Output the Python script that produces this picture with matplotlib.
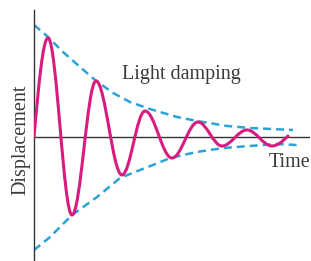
import numpy as np
import matplotlib
matplotlib.use("Agg")
import matplotlib.pyplot as plt
from matplotlib.path import Path
from matplotlib.patches import PathPatch

# ---- data (time in arbitrary units, displacement normalised) ----
# damped oscillation: start, successive peaks / troughs, end point
osc_t = [0.0, 1.4, 3.8, 6.2, 8.8, 11.1, 13.8, 16.4, 18.8, 21.3, 23.8, 25.4]
osc_d = [0.0, 0.861, -0.678, 0.487, -0.330, 0.226, -0.183, 0.130, -0.078, 0.061, -0.078, 0.009]

# upper envelope (dashed)
env_up_t = [0.0, 1.3, 2.9, 4.6, 6.1, 7.9, 9.6, 11.6, 14.3, 16.3, 19.3, 21.6, 25.9]
env_up_d = [0.974, 0.878, 0.739, 0.609, 0.496, 0.383, 0.304, 0.243, 0.174, 0.139, 0.096, 0.078, 0.061]

# lower envelope (dashed)
env_lo_t = [0.0, 1.6, 3.8, 6.3, 8.6, 10.6, 12.4, 13.6, 16.3, 18.9, 21.6, 24.3, 26.3]
env_lo_d = [-0.983, -0.870, -0.678, -0.522, -0.357, -0.287, -0.226, -0.183, -0.130, -0.096, -0.078, -0.061, -0.070]

label_curve = "Light damping"
label_x = "Time"
label_y = "Displacement"

PINK = "#d81b7f"
CYAN = "#2ba3d6"
AXC = "#333333"
TXT = "#3a3a3a"
FONT = "Liberation Serif"

fig = plt.figure(figsize=(3.11, 2.61), dpi=100)
ax = fig.add_axes([34 / 311, 0.0, 276 / 311, 251 / 261])
ax.set_xlim(0, 27.6)
ax.set_ylim(-1.078, 1.104)
for s in ["top", "right", "bottom"]:
    ax.spines[s].set_visible(False)
ax.spines["left"].set_color(AXC)
ax.spines["left"].set_linewidth(1.0)
ax.set_xticks([])
ax.set_yticks([])
ax.patch.set_visible(False)
ax.axhline(0, color=AXC, lw=1.0, zorder=1)

# envelopes
ax.plot(env_up_t, env_up_d, color=CYAN, lw=1.8, linestyle=(0, (3.2, 2.0)),
        solid_capstyle="butt", dash_capstyle="butt", zorder=2)
ax.plot(env_lo_t, env_lo_d, color=CYAN, lw=1.8, linestyle=(0, (3.2, 2.0)),
        solid_capstyle="butt", dash_capstyle="butt", zorder=2)

# smooth oscillation through read extrema (cubic Bezier segments)
n = len(osc_t)
slopes = []
for i in range(n):
    if i == 0:
        slopes.append(np.pi / 2 * (osc_d[1] - osc_d[0]) / (osc_t[1] - osc_t[0]))
    elif i == n - 1:
        slopes.append(np.pi / 2 * (osc_d[-1] - osc_d[-2]) / (osc_t[-1] - osc_t[-2]))
    else:
        slopes.append(0.0)

verts = [(osc_t[0], osc_d[0])]
codes = [Path.MOVETO]
for i in range(n - 1):
    t0, d0, t1, d1 = osc_t[i], osc_d[i], osc_t[i + 1], osc_d[i + 1]
    dt = t1 - t0
    f0 = 0.36 if slopes[i] == 0 else 1 / 3
    f1 = 0.36 if slopes[i + 1] == 0 else 1 / 3
    p1 = (t0 + f0 * dt, d0 + f0 * dt * slopes[i])
    p2 = (t1 - f1 * dt, d1 - f1 * dt * slopes[i + 1])
    verts += [p1, p2, (t1, d1)]
    codes += [Path.CURVE4] * 3
ax.add_patch(PathPatch(Path(verts, codes), fill=False, edgecolor=PINK, lw=2.2,
                       capstyle="round", joinstyle="round", zorder=3))

# texts
ax.text(8.8, 0.504, label_curve, fontsize=14.5, family=FONT, color=TXT,
        ha="left", va="baseline")
ax.text(23.5, -0.261, label_x, fontsize=14.5, family=FONT, color=TXT,
        ha="left", va="baseline", clip_on=False)
fig.text(25 / 311, 1 - 140 / 261, label_y, fontsize=14.5, family=FONT, color=TXT,
         rotation=90, rotation_mode="anchor", ha="center", va="baseline")

fig.savefig("out.png", dpi=100)
